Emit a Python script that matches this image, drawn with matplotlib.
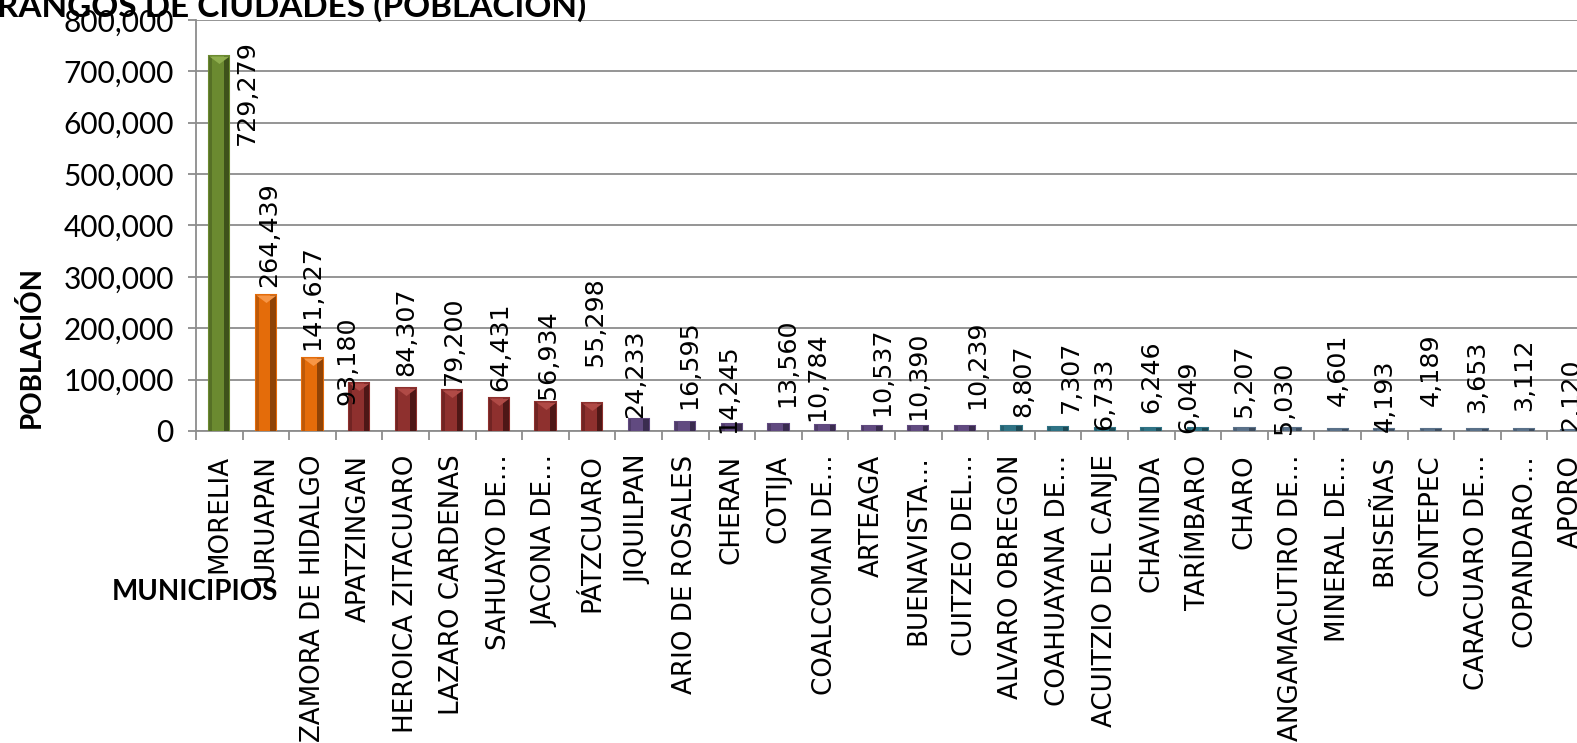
import numpy as np
import matplotlib
matplotlib.use("Agg")
import matplotlib.pyplot as plt
from matplotlib.path import Path
from matplotlib.ticker import FuncFormatter, FixedLocator

# municipios y poblacion
municipios = ["MORELIA", "URUAPAN", "ZAMORA DE HIDALGO", "APATZINGAN",
              "HEROICA ZITACUARO", "LAZARO CARDENAS", "SAHUAYO DE\u2026",
              "JACONA DE\u2026", "PÁTZCUARO", "JIQUILPAN", "ARIO DE ROSALES",
              "CHERAN", "COTIJA", "COALCOMAN DE\u2026", "ARTEAGA",
              "BUENAVISTA\u2026", "CUITZEO DEL\u2026", "ALVARO OBREGON",
              "COAHUAYANA DE\u2026", "ACUITZIO DEL CANJE", "CHAVINDA",
              "TARÍMBARO", "CHARO", "ANGAMACUTIRO DE\u2026", "MINERAL DE\u2026",
              "BRISEÑAS", "CONTEPEC", "CARACUARO DE\u2026", "COPANDARO\u2026",
              "APORO"]
poblacion = [729279, 264439, 141627, 93180, 84307, 79200, 64431, 56934,
             55298, 24233, 16595, 14245, 13560, 10784, 10537, 10390, 10239,
             8807, 7307, 6733, 6246, 6049, 5207, 5030, 4601, 4193, 4189,
             3653, 3112, 2120]
# rango de ciudad (grupo de color)
rango = [0, 1, 1, 2, 2, 2, 2, 2, 2, 3, 3, 3, 3, 3, 3, 3, 3,
         4, 4, 4, 4, 4, 5, 5, 5, 5, 5, 5, 5, 5]

# colores por rango: (base, oscuro, claro)
colores = {0: ("#6b8a30", "#3e521a", "#8fae4e"),
           1: ("#e46c0a", "#8f4306", "#f79646"),
           2: ("#8e302e", "#4e1716", "#b04a46"),
           3: ("#614a80", "#3a2c4f", "#8069a0"),
           4: ("#2f7385", "#1d4a56", "#4b96aa"),
           5: ("#5a7189", "#3c4c5e", "#7890a8")}

# posicion de las etiquetas (pixeles respecto a la punta de la barra)
label_dx = [28, 3, 0, -12, 1, 2, 1, 2, 3, -4, 4, -4, 9, -8, 11, 0, 12,
            12, 13, 0, 0, -10, 0, -7, 0, 0, 0, 0, 0, 0]
label_dy = [-36, 61, 61, 22, 56, 50, 51, 47, 81, 45, 58, 35, 61, 49, 54,
            50, 61, 46, 50, 34, 51, 31, 48, 31, 59, 33, 59, 52, 55, 35]

W, H = 1577, 743
fig = plt.figure(figsize=(W / 100, H / 100), dpi=100)
x0, x1, y0, y1 = 196, 1594, 431, 20
ax = fig.add_axes([x0 / W, 1 - y0 / H, (x1 - x0) / W, (y0 - y1) / H])

gris = "#8c8c8c"
ind = np.arange(len(municipios))
width = 0.43

for i, v in enumerate(poblacion):
    base, dark, light = colores[rango[i]]
    ax.bar(ind[i], v, width, color=base, edgecolor=base, linewidth=1.5, zorder=3)
    ax.bar(ind[i] + width * 0.36, v, width * 0.28, color=dark,
           linewidth=0, zorder=4)
    ax.bar(ind[i] - width * 0.43, v, width * 0.14, color=dark, alpha=0.45,
           linewidth=0, zorder=4)
    if v > 30000:
        tri = Path([(-1, 0), (1, 0), (0, -0.75), (-1, 0)])
        ax.plot(ind[i], v, marker=tri, markersize=width * 46.6 * 0.72,
                color=light, markeredgewidth=0, zorder=5)

for i, v in enumerate(poblacion):
    ax.annotate("{:,}".format(v), (ind[i], v), xytext=(label_dx[i], label_dy[i]),
                textcoords="offset pixels", rotation=90, ha="center",
                va="center", fontsize=18.3, family="DejaVu Sans", zorder=6,
                annotation_clip=False)

ax.set_xlim(-0.5, len(municipios) - 0.5)
ax.set_ylim(0, 800000)
ax.yaxis.set_major_locator(FixedLocator(np.arange(0, 800001, 100000)))
ax.yaxis.set_major_formatter(FuncFormatter(lambda y, p: "{:,}".format(int(y))))
ax.grid(axis="y", color=gris, linewidth=1.3, zorder=0)
ax.set_axisbelow(True)

ax.set_xticks(ind)
ax.set_xticklabels(municipios, rotation=90, ha="center", va="top",
                   fontsize=18.8, family="DejaVu Sans")
ax.set_xticks(np.arange(-0.5, len(municipios), 1), minor=True)
ax.tick_params(axis="x", which="major", length=0, pad=17)
ax.tick_params(axis="x", which="minor", length=6.5, width=1.3, color=gris,
               direction="out")
ax.tick_params(axis="y", length=6, width=1.3, color=gris, pad=10,
               labelsize=21.5)
for lab in ax.get_yticklabels():
    lab.set_family("Lato")

for s in ["top", "right"]:
    ax.spines[s].set_visible(False)
for s in ["left", "bottom"]:
    ax.spines[s].set_color(gris)
    ax.spines[s].set_linewidth(1.3)

fig.text(-0.002, 1 - 17 / H, "RANGOS DE CIUDADES (POBLACIÓN)", ha="left",
         va="baseline", fontsize=24, fontweight="bold", family="Lato")
fig.text(31 / W, 1 - 347 / H, "POBLACIÓN", rotation=90, ha="center",
         va="center", fontsize=20, fontweight="bold", family="Lato")
fig.text(195 / W, 1 - 592 / H, "MUNICIPIOS", ha="center", va="center",
         fontsize=20, fontweight="bold", family="Lato")

fig.savefig("out.png", dpi=100)
